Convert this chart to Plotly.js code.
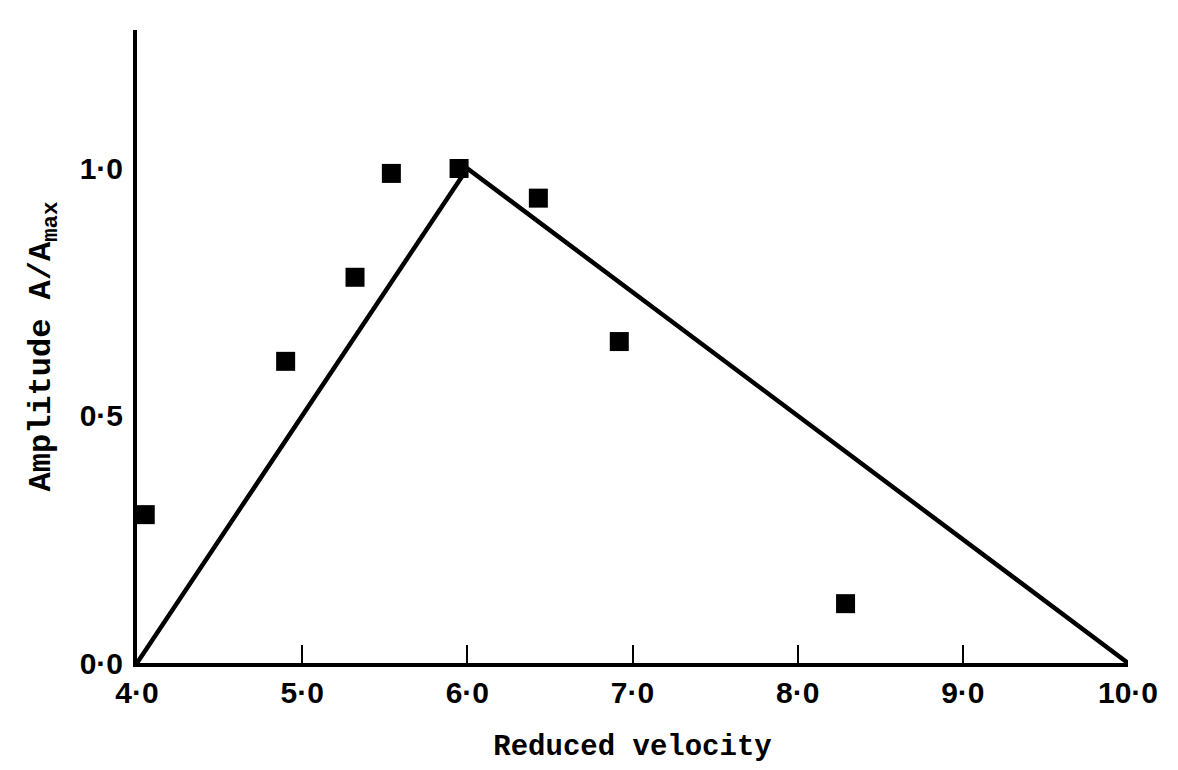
<!DOCTYPE html>
<html>
<head>
<meta charset="utf-8">
<script src="https://cdn.plot.ly/plotly-3.0.1.min.js"></script>
<style>html,body{margin:0;padding:0;background:#fff;}#chart{width:1178px;height:770px;}</style>
</head>
<body>
<div id="chart"></div>
<script>
// Measured points (reduced velocity, A/Amax)
const pointX = [4.05, 4.90, 5.32, 5.54, 5.95, 6.43, 6.92, 8.29];
const pointY = [0.30, 0.61, 0.78, 0.99, 1.00, 0.94, 0.65, 0.12];
// Fitted triangle line
const lineX = [4.0, 6.0, 10.0];
const lineY = [0.0, 1.0, 0.0];
// Tick labels
const xTickVals = [4, 5, 6, 7, 8, 9, 10];
const xTickText = ['4·0', '5·0', '6·0', '7·0', '8·0', '9·0', '10·0'];
const yTickVals = [0, 0.5, 1.0];
const yTickText = ['0·0', '0·5', '1·0'];

const traces = [
  {x: lineX, y: lineY, mode: 'lines', type: 'scatter',
   line: {color: '#000', width: 4.5}, hoverinfo: 'skip', showlegend: false, cliponaxis: false},
  {x: pointX, y: pointY, mode: 'markers', type: 'scatter',
   marker: {symbol: 'square', size: 19, color: '#000'}, showlegend: false, cliponaxis: false}
];

const tickFont = {family: 'Liberation Sans, Arial, sans-serif', size: 30, color: '#000', weight: 'bold'};
const xTitleFont = {family: 'Liberation Mono, Courier New, monospace', size: 29, color: '#000', weight: 'bold'};
const yTitleFont = {family: 'Liberation Mono, Courier New, monospace', size: 32, color: '#000', weight: 'bold'};

const layout = {
  width: 1178, height: 770,
  margin: {l: 137, r: 50, t: 30, b: 107},
  paper_bgcolor: '#fff', plot_bgcolor: '#fff',
  showlegend: false,
  xaxis: {
    range: [4, 10], tickvals: xTickVals, ticktext: xTickText,
    ticks: 'inside', ticklen: 18, tickwidth: 2, tickcolor: '#000',
    showline: true, linecolor: '#000', linewidth: 4,
    showgrid: false, zeroline: false,
    tickfont: tickFont, ticklabelstandoff: 0,
    title: {text: 'Reduced velocity', font: xTitleFont, standoff: 28}
  },
  yaxis: {
    range: [0, 1.28], tickvals: yTickVals, ticktext: yTickText,
    ticks: '', showline: true, linecolor: '#000', linewidth: 4,
    showgrid: false, zeroline: false,
    tickfont: tickFont, ticklabelstandoff: 4,
    title: {text: 'Amplitude A/A<sub>max</sub>', font: yTitleFont, standoff: 20}
  }
};

Plotly.newPlot('chart', traces, layout, {staticPlot: true, displayModeBar: false});
</script>
</body>
</html>
